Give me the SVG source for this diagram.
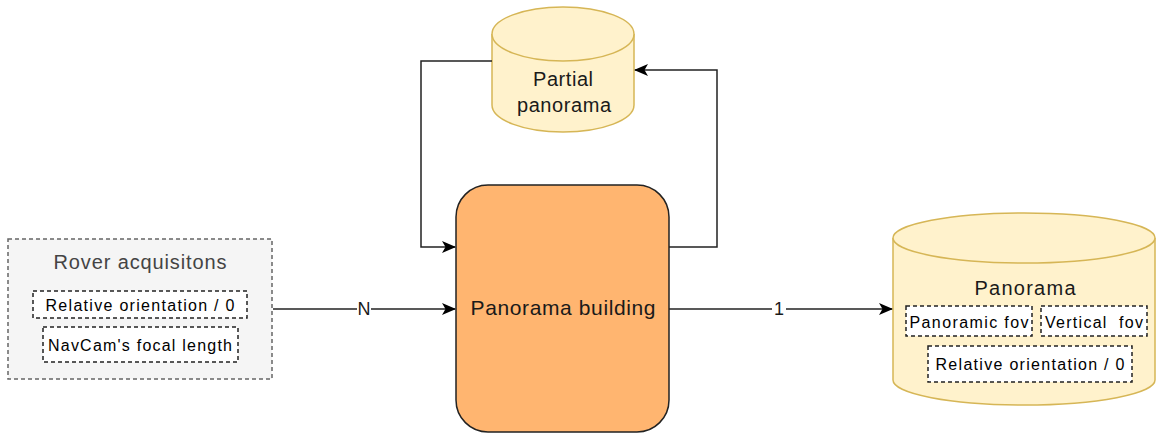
<svg xmlns="http://www.w3.org/2000/svg" width="1156" height="434" viewBox="0 0 1156 434">
<style>
text{font-family:"Liberation Sans",Arial,sans-serif;}
.main{font-size:20px;fill:#1a1a1a;text-anchor:middle;}
.big{font-size:21px;}
.small{font-size:16px;fill:#000;text-anchor:middle;}
.lbl{font-size:18px;fill:#1a1a1a;text-anchor:middle;}
.cyl{fill:#fff2cc;stroke:#d6b656;stroke-width:1.5;}
.field{fill:#fff;stroke:#222;stroke-width:1.5;stroke-dasharray:4 3;}
.edge{fill:none;stroke:#222;stroke-width:1.5;}
</style>
<defs>
<marker id="arr" viewBox="0 0 14 12" refX="13" refY="6" markerWidth="14" markerHeight="12" markerUnits="userSpaceOnUse" orient="auto">
<path d="M0,0 L14,6 L0,12 L3.5,6 Z" fill="#000"/>
</marker>
</defs>

<g id="rover">
<rect x="8" y="239" width="264" height="140" fill="#f5f5f5" stroke="#666" stroke-width="1.5" stroke-dasharray="4 3"/>
<text class="main" x="140" y="269" style="fill:#444" textLength="173" lengthAdjust="spacing">Rover acquisitons</text>
<rect class="field" x="33" y="291" width="214" height="27"/>
<text class="small" x="140" y="311" textLength="189" lengthAdjust="spacing">Relative orientation / 0</text>
<rect class="field" x="43" y="327" width="195" height="35"/>
<text class="small" x="140" y="351" textLength="184" lengthAdjust="spacing">NavCam's focal length</text>
</g>

<g id="partial">
<path class="cyl" d="M492,34 A71,27 0 0 1 634,34 L634,105 A71,27 0 0 1 492,105 Z"/>
<path class="cyl" fill="none" d="M492,34 A71,27 0 0 0 634,34"/>
<text class="main" x="563" y="86" textLength="60" lengthAdjust="spacing">Partial</text>
<text class="main" x="564" y="112" textLength="94" lengthAdjust="spacing">panorama</text>
</g>

<g id="building">
<rect x="456" y="185" width="213" height="247" rx="32" ry="32" fill="#ffb570" stroke="#222" stroke-width="1.5"/>
<text class="main big" x="563" y="315" textLength="185" lengthAdjust="spacing">Panorama building</text>
</g>

<g id="panorama">
<path class="cyl" d="M893,238 A131,25 0 0 1 1155,238 L1155,380 A131,25 0 0 1 893,380 Z"/>
<path class="cyl" fill="none" d="M893,238 A131,25 0 0 0 1155,238"/>
<text class="main" x="1025" y="295" textLength="101" lengthAdjust="spacing">Panorama</text>
<rect class="field" x="906" y="306" width="126" height="30"/>
<text class="small" x="969" y="328" textLength="119" lengthAdjust="spacing">Panoramic fov</text>
<rect class="field" x="1041" y="306" width="106" height="30"/>
<text class="small" x="1094" y="328" xml:space="preserve" style="white-space:pre" textLength="98" lengthAdjust="spacing">Vertical  fov</text>
<rect class="field" x="928" y="346" width="204" height="36"/>
<text class="small" x="1030" y="370" textLength="189" lengthAdjust="spacing">Relative orientation / 0</text>
</g>

<g id="connectors">
<path class="edge" d="M273,309 L455,309" marker-end="url(#arr)"/>
<rect x="357" y="299" width="14" height="20" fill="#fff"/>
<text class="lbl" x="364" y="315">N</text>
<path class="edge" d="M669,309 L892,309" marker-end="url(#arr)"/>
<rect x="772" y="299" width="14" height="20" fill="#fff"/>
<text class="lbl" x="779" y="315">1</text>
<path class="edge" d="M492,61 L421,61 L421,247 L455,247" marker-end="url(#arr)"/>
<path class="edge" d="M669,247 L717,247 L717,70 L635,70" marker-end="url(#arr)"/>
</g>
</svg>
